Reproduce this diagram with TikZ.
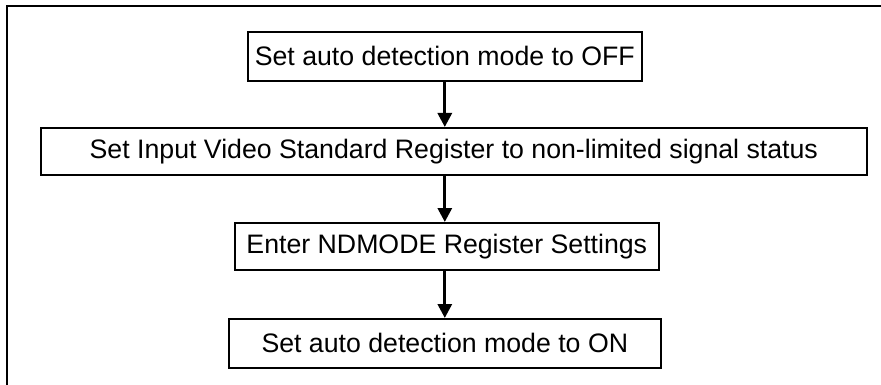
\documentclass[tikz,border=0pt]{standalone}
\usepackage{fontspec}
\setmainfont{Liberation Sans}
\usetikzlibrary{arrows.meta}
\begin{document}
\begin{tikzpicture}[x=1pt,y=-1pt,
  stepbox/.style={draw=black,line width=1.6pt,inner sep=0pt,anchor=north west,
    font=\fontsize{26.7}{30}\selectfont},
  arr/.style={line width=3pt,-{Triangle[length=14pt,width=14pt]}}]
\useasboundingbox (0,0) rectangle (881,385);
\draw[line width=2pt] (7,386) -- (7,6) -- (882,6);
\node[stepbox,minimum width=394pt,minimum height=49pt] (b1) at (247,31) {Set auto detection mode to OFF};
\node[stepbox,minimum width=826pt,minimum height=47pt] (b2) at (40,127) {Set Input Video Standard Register to non-limited signal status};
\node[stepbox,minimum width=424pt,minimum height=47pt] (b3) at (234,222) {Enter NDMODE Register Settings};
\node[stepbox,minimum width=432pt,minimum height=49pt] (b4) at (228,318) {Set auto detection mode to ON};
\draw[arr] (b1.south) -- (b1.south |- b2.north);
\draw[arr] (b2.south -| b1.south) -- (b1.south |- b3.north);
\draw[arr] (b3.south -| b1.south) -- (b1.south |- b4.north);
\end{tikzpicture}
\end{document}
